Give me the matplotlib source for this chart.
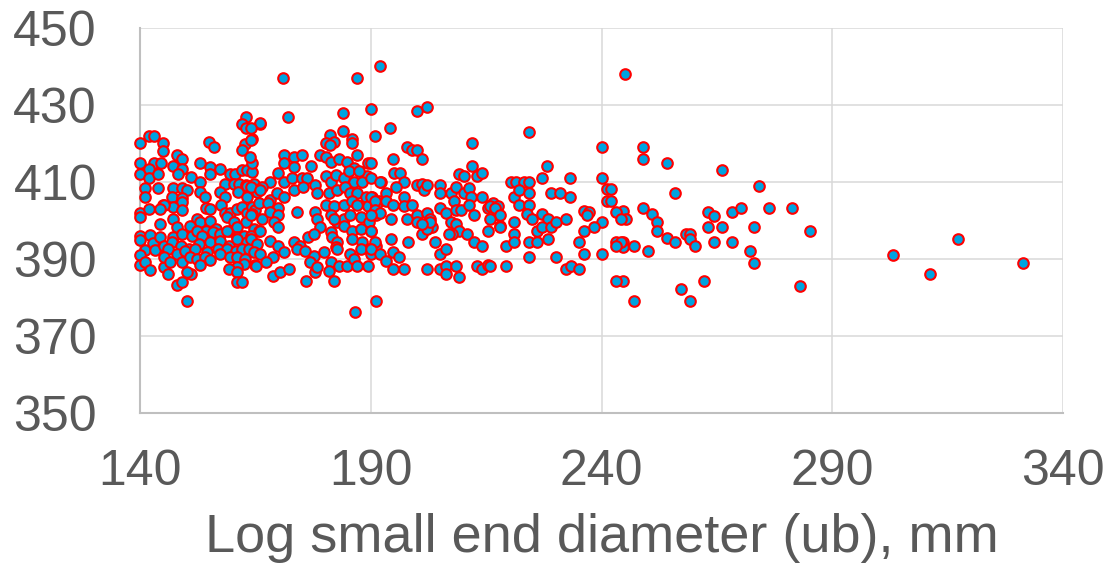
import matplotlib
matplotlib.use("Agg")
import matplotlib.pyplot as plt

# (diameter mm, height) pairs, grouped by x region
pts_140_150 = [(140, 420), (142, 422), (143, 422), (145, 420), (145, 418), (140, 415), (143, 415),
               (144.5, 415), (140, 412), (142, 413.5), (142, 411), (144, 412), (141, 408.4), (141, 406.2),
               (144, 408.4), (140, 402), (140, 401), (142, 403), (145, 404), (140, 396), (140, 395),
               (141, 392.3), (140, 391), (140, 388.4), (142.2, 396.2), (142.9, 394.1), (143.3, 392.3),
               (141.1, 389.3), (142.2, 387.1), (145.1, 388), (146.1, 386.1), (148, 383.2), (149, 384.1),
               (150.1, 379.2)]
pts_147_166_hi = [(163, 427), (162, 425), (163, 424), (166, 425), (164.2, 421.1), (162.8, 419.9), (162.1, 418.3),
                  (155, 420.4), (156, 419.2), (148, 417), (149.1, 416.1), (147.2, 414.2), (149, 413.5), (153, 415),
                  (155.2, 414), (157.3, 413.3), (155.2, 412.1), (148.2, 412), (151, 411.2), (153, 410),
                  (159.5, 412.1), (160.6, 412.1), (162.1, 413.1), (163.2, 413), (164.2, 412.5), (164.2, 415),
                  (163.8, 416.4), (158.5, 409.6), (160.3, 409.6), (161.4, 409.6), (162.9, 409.1), (164.8, 409.6),
                  (147.2, 408.4), (149, 408.4), (150.1, 408), (147, 406.2), (149, 405.8), (153, 407.3),
                  (154.1, 406.2), (157.3, 407.3), (158.4, 406.2), (161.3, 407.3), (163.2, 409), (163.2, 406.2),
                  (165.4, 407.3)]
pts_144_166_mid = [(149, 404.9), (147.2, 403.6), (149, 402.8), (145.1, 404.1), (144.3, 403), (154.4, 403.2),
                   (155.2, 403), (157.6, 404.1), (158.5, 402), (159.5, 402), (161, 403), (162.1, 403.6), (163.2, 402),
                   (164.2, 403.6), (165, 402.8), (165.7, 404.5), (147.2, 400.5), (152.3, 400.5), (153, 399.6),
                   (155.2, 400), (158.9, 400.9), (160.4, 399.6), (162.9, 399.6), (164.2, 401.8), (144.3, 399.2),
                   (148, 398.3), (150.8, 398.7), (154.4, 397.4), (156.5, 397.8), (159.5, 397.4), (161, 398.3),
                   (164.6, 397.8), (165.7, 397.4)]
pts_144_166_lo = [(144.3, 395.6), (147.2, 395.6), (149, 396.5), (151.2, 396.1), (152.3, 397.4), (153.4, 396.1),
                  (155.9, 397), (157.3, 396.5), (158.8, 397.4), (161, 395.6), (162.5, 396.1), (164, 396.1),
                  (145.1, 393.5), (147, 394.3), (148.8, 393.5), (150.6, 392.6), (152.8, 393.9), (155.2, 394.3),
                  (157.3, 394.8), (159.2, 393.5), (161, 395.2), (163.2, 394.3), (165, 393.5), (146.1, 392.6),
                  (148, 391.4), (149.8, 392.2), (152, 392.6), (154.6, 391.9), (156.8, 392.6), (158.9, 392.6),
                  (160.7, 392.2), (162.1, 392.6), (163.6, 392.6), (145.1, 390.6), (146.5, 389.3), (149, 389.3),
                  (150.8, 390.6), (152.3, 390.1), (154.1, 390.6), (153, 388.4), (155.2, 389.7), (157.4, 391.4),
                  (159.5, 390.6), (161, 390.6), (162.8, 390.1), (162.5, 388.8), (165, 388.4), (161, 388),
                  (151.1, 386.1), (150.1, 386.7), (159.3, 387.5), (161.1, 386.7), (161.1, 384.1), (162.1, 384.1)]
pts_164_192 = [(171, 437), (187, 437), (192, 440), (172, 427), (166, 425.4), (184, 428), (190, 429), (191, 422),
               (184, 423.3), (181.1, 422.2), (180.2, 420.2), (182, 420.5), (181.1, 419.7), (185.9, 421.1), (186, 420),
               (164, 424), (164, 421), (171.1, 417), (173.3, 416.6), (175.1, 417), (171.1, 414.9), (173.3, 414),
               (177.1, 414.2), (179.1, 417), (180.2, 416.6), (181.3, 415.3), (183.1, 416.1), (184.9, 415.3),
               (187.1, 417), (189.3, 415), (189.2, 411.5), (186.4, 413.6), (168.2, 410), (166.4, 408.8),
               (170, 412.3), (171.1, 410), (172.9, 411), (175.1, 411), (176.2, 411), (178, 409.1), (180.2, 411.6),
               (181.3, 410), (182.4, 411.8), (184.2, 411), (185.3, 412.8), (186.4, 410), (187.5, 412.8),
               (188.2, 410), (192.2, 410), (164, 408.8), (166, 408), (168.2, 405.4), (169.6, 407.1), (171.1, 406.2),
               (173.3, 408), (175.4, 408.8), (178.3, 407.1), (180.9, 407.1), (182.7, 408), (184.5, 408.8),
               (185.6, 407.1), (187.1, 407.1), (188.9, 406.2), (190.3, 406.2), (191.7, 405), (167.8, 404.5),
               (170, 403.2), (174, 402.1), (178, 402.1), (180.2, 404.1), (182, 403.7), (184.2, 404.1), (186, 405),
               (187.1, 404.1), (189.3, 403.7), (191.1, 404.1), (164, 401.3), (166.5, 400.4), (168.2, 402.1),
               (170, 401.3), (178.3, 400.4), (181.3, 401.3), (182.7, 399.6), (184.2, 400.4), (185.6, 401.3),
               (187.8, 400.9), (189.6, 399.6), (191.1, 401.3), (182, 400.4), (169.1, 399.6), (170, 398.3),
               (179.1, 398.3), (181.3, 397.1), (184.2, 398.7), (186, 397.4), (187.8, 397.8), (190, 397.4),
               (166, 397.4), (164, 395.2), (165.4, 393.9), (168.2, 394.8), (170, 393.5), (173.3, 394.5),
               (174.7, 393.5), (176.5, 395.6), (177.6, 396.5), (181.6, 395.6), (182.7, 394.5), (182.4, 393),
               (186, 395.2), (188.2, 394.5), (189.6, 392.6), (191.1, 393.5), (164.7, 391.7), (166, 391.3),
               (168.9, 390.5), (171.1, 391.7), (174, 392.6), (175.8, 392.2), (177.6, 390.9), (179.8, 391.7),
               (182.7, 392.6), (185.6, 391.3), (187.8, 392.6), (190, 391.3), (165.1, 388.3), (167.3, 389.2),
               (168.9, 385.7), (170.4, 386.6), (172.2, 387.5), (176.9, 389.2), (178, 386.6), (178.3, 387.9),
               (181.3, 389.2), (183.1, 388.3), (180.9, 387), (182, 384.2), (184.9, 388.3), (186.4, 390.1),
               (187.1, 388.3), (189.3, 388.3), (176, 384.2), (186.6, 376.3), (191.1, 379.2)]
pts_190_218 = [(200, 428.5), (202.2, 429.6), (194.1, 424), (212, 420), (197.8, 419.2), (198.9, 418.3), (200, 418.3),
               (201.1, 416.1), (194.9, 416.1), (212, 414.2), (209.1, 412.1), (210.2, 411.5), (213.1, 411.5),
               (214.2, 412.3), (190, 415), (190, 411), (192.1, 410), (195.1, 412.3), (196.4, 412.3), (197.1, 410),
               (193.2, 407.1), (195.4, 408.8), (197.1, 406.2), (200, 409.1), (201.1, 409.6), (201.5, 408),
               (202.2, 409.1), (205.1, 409.1), (205.1, 407.1), (207.3, 407.1), (208.4, 408.8), (210.2, 407.1),
               (211.3, 408.4), (211.7, 406.2), (214.2, 406.2), (215.3, 403.2), (216.4, 404.5), (217.5, 403.7),
               (216.4, 401.3), (217.9, 398.7), (190, 406.2), (191, 405), (193.2, 405), (194.9, 404.1),
               (197.1, 403.7), (198.9, 404.1), (191, 402.8), (192.1, 402), (194.3, 400.4), (190, 401.3),
               (197.8, 400.4), (200, 401.3), (200, 399.6), (202.2, 402), (202.9, 400.4), (201.1, 396.5),
               (203.3, 398.3), (205.1, 403.2), (206.2, 402), (208, 405), (208.4, 402.8), (209.5, 402.8),
               (211.3, 404.1), (212.4, 401.3), (207.3, 399.6), (208.4, 399.2), (209.1, 397.4), (207.7, 396.5),
               (206.9, 396.5), (210.9, 396.5), (212.4, 394.3), (214.2, 393.5), (215.3, 397.4), (190, 397.4),
               (191, 394.3), (190, 392.6), (192.1, 391.3), (194.3, 395.2), (193.2, 389.6), (194.9, 391.7),
               (196.2, 390.5), (194.9, 387.5), (197.1, 387.5), (198.1, 394.3), (202.2, 387.5), (204, 394.3),
               (205.1, 391.3), (206.2, 392.6), (205.1, 387.5), (206.2, 388.3), (206.2, 386.2), (208.4, 388.3),
               (209.1, 385.3), (213.1, 388.3), (214.2, 387.5), (215.3, 388.5), (202.2, 397.8), (202.9, 399.6),
               (201.1, 399.2)]
pts_216_246 = [(245, 438), (224.2, 423.1), (240.2, 419), (228.1, 414.2), (227.2, 411.1), (233.2, 411.1),
               (240.2, 411.1), (241.2, 408.1), (241.2, 405.1), (220.3, 410), (221.4, 410), (223.2, 410), (224.3, 410),
               (221, 406.2), (222.1, 408), (224.3, 407.1), (222.1, 404.1), (224.3, 404.1), (229, 407.1),
               (231.1, 407.1), (233.2, 406.2), (215.9, 403.7), (217, 403.2), (218.1, 401.3), (215.9, 400.4),
               (218.1, 398.3), (221, 399.6), (223.9, 401.8), (225, 400.4), (227.2, 401.8), (228.3, 400.4),
               (226.1, 397.4), (227.2, 398.3), (229, 398.3), (230.1, 399.6), (232.3, 400.4), (236.2, 402.4),
               (237.3, 402.1), (236.9, 401.3), (240.2, 399.6), (238.4, 398.3), (236.2, 397.4), (244.7, 402.4),
               (245.4, 400.4), (221, 396.5), (219.2, 393.5), (221, 394.3), (224.3, 394.3), (226.1, 394.3),
               (228.3, 395.2), (235.1, 394.3), (236.2, 391.3), (240.2, 391.3), (244.7, 394.3), (244.7, 393),
               (215.9, 388.3), (219.2, 388.3), (224.3, 390.4), (230.1, 390.4), (232.3, 387.5), (233.3, 388.3),
               (235.1, 387.5), (244.7, 384.2)]
pts_242_335 = [(249, 419), (249, 416.1), (254.1, 415), (266.2, 413.1), (274.1, 409), (256, 407.1), (242, 408.1),
               (242, 405), (243.1, 402.2), (244.2, 400.4), (249, 403.2), (251, 401.6), (252.1, 399.6), (252.1, 397.4),
               (254.1, 395.5), (256, 394.5), (258.3, 396.5), (259.2, 396.5), (259.2, 395.2), (260.2, 393.5),
               (263.1, 402.2), (264.3, 401.1), (263.1, 398.3), (266.2, 398.3), (264.3, 394.3), (268.2, 402.2),
               (270.2, 403.2), (268.2, 394.3), (273.1, 398.3), (276.4, 403.2), (281.2, 403.2), (272.2, 392.1),
               (273.1, 389), (285.1, 397.2), (243.1, 394.3), (244.2, 394.3), (243.1, 393.3), (247.1, 393.3),
               (250.1, 392.1), (243.1, 384.2), (247.1, 379.2), (257.2, 382.2), (259.2, 379.2), (262.2, 384.2),
               (283.1, 383.1), (303.2, 391), (311.2, 386.1), (317.2, 395.1), (331.3, 389)]

x_ticks = [140, 190, 240, 290, 340]
y_ticks = [350, 370, 390, 410, 430, 450]
x_label = "Log small end diameter (ub), mm"

groups = [pts_140_150, pts_147_166_hi, pts_144_166_mid, pts_144_166_lo,
          pts_164_192, pts_190_218, pts_216_246, pts_242_335]
diam = [p[0] for g in groups for p in g]
height = [p[1] for g in groups for p in g]

plt.rcParams["font.family"] = ["Liberation Sans", "DejaVu Sans"]
fig = plt.figure(figsize=(11.08, 5.72), dpi=100)
ax = fig.add_axes([140 / 1108, 1 - 413 / 572, 923 / 1108, 385 / 572])

ax.scatter(diam, height, s=58, c="#00A3E0", edgecolors="#FF0000", linewidths=1.5,
           zorder=3, clip_on=False)

ax.set_xlim(140, 340)
ax.set_ylim(350, 450)
ax.set_xticks(x_ticks)
ax.set_yticks(y_ticks)
ax.grid(True, color="#D9D9D9", lw=1.1, zorder=0)
ax.set_axisbelow(True)
for s in ("top", "right"):
    ax.spines[s].set_visible(False)
for s in ("left", "bottom"):
    ax.spines[s].set_color("#BFBFBF")
    ax.spines[s].set_linewidth(1.5)
ax.tick_params(length=0, labelsize=36, colors="#595959")
ax.tick_params(axis="x", pad=26)
ax.tick_params(axis="y", pad=31)
ax.set_xlabel(x_label, fontsize=39, color="#595959", labelpad=13)

fig.savefig("out.png", dpi=100)
